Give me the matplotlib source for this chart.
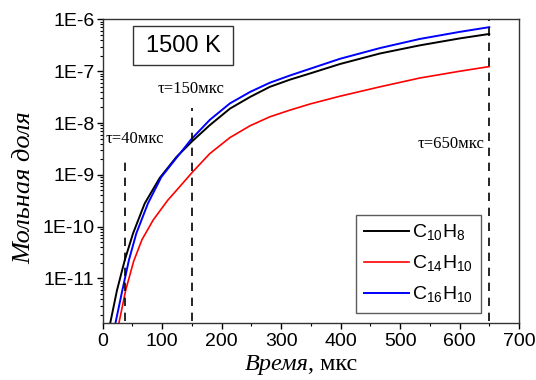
import math
import matplotlib
matplotlib.use('Agg')
import matplotlib.pyplot as plt
from matplotlib.patches import Rectangle
from matplotlib.ticker import LogLocator, FixedLocator, MultipleLocator, FuncFormatter

# time, mks / mole fraction
t_c10h8 = [12.8, 24, 37, 51, 70.6, 95.8, 123.8, 150, 180, 214, 248, 281, 315,
           349, 399, 466, 533, 600, 650]
y_c10h8 = [1.4e-12, 5.9e-12, 2.24e-11, 7.4e-11, 2.8e-10, 8.7e-10, 2.2e-9, 4.4e-9,
           9.1e-9, 1.9e-8, 3.2e-8, 5.0e-8, 6.9e-8, 9.1e-8, 1.38e-7, 2.2e-7,
           3.16e-7, 4.3e-7, 5.25e-7]

t_c14h10 = [27.4, 38.6, 52, 66, 85, 109, 130, 150, 180, 214, 248, 281, 315,
            349, 399, 466, 533, 600, 650]
y_c14h10 = [1.4e-12, 5.9e-12, 2.14e-11, 5.6e-11, 1.35e-10, 3.2e-10, 6.0e-10,
            1.1e-9, 2.57e-9, 5.25e-9, 8.9e-9, 1.32e-8, 1.78e-8, 2.34e-8, 3.3e-8,
            5.0e-8, 7.4e-8, 1.0e-7, 1.23e-7]

t_c16h10 = [21.6, 33, 44, 56.5, 76, 98.6, 125, 148.5, 180, 214, 248, 281, 315,
            349, 399, 466, 533, 600, 650]
y_c16h10 = [1.4e-12, 5.9e-12, 2.24e-11, 7.4e-11, 2.8e-10, 9.1e-10, 2.2e-9, 4.8e-9,
            1.15e-8, 2.4e-8, 4.0e-8, 6.0e-8, 8.3e-8, 1.12e-7, 1.74e-7, 2.8e-7,
            4.2e-7, 5.75e-7, 7.1e-7]

tau_times = [37, 150, 650]
tau_tops = [2.2e-9, 1.95e-8, 1e-6]
tau_labels = ['τ=40мкс', 'τ=150мкс', 'τ=650мкс']
tau_label_pos = [(5.5, 4.1e-9), (93, 3.8e-8), (530, 3.3e-9)]

xticks = [0, 100, 200, 300, 400, 500, 600, 700]
yticks = [1e-11, 1e-10, 1e-9, 1e-8, 1e-7, 1e-6]


def main():
    plt.rcParams['font.family'] = ['Liberation Sans', 'DejaVu Sans']
    plt.rcParams['mathtext.fontset'] = 'custom'
    plt.rcParams['mathtext.rm'] = 'Liberation Sans'

    fig = plt.figure(figsize=(5.36, 3.8), dpi=100)
    ax = fig.add_axes([0.1916, 0.1508, 0.7767, 0.798])

    ax.plot(t_c10h8, y_c10h8, color='black', lw=1.4, label=r'C$_{10}$H$_8$')
    ax.plot(t_c14h10, y_c14h10, color='red', lw=1.2, label=r'C$_{14}$H$_{10}$')
    ax.plot(t_c16h10, y_c16h10, color='blue', lw=1.4, label=r'C$_{16}$H$_{10}$')

    for t, top in zip(tau_times, tau_tops):
        ax.plot([t, t], [1e-13, top], color='black', lw=1.2, ls=(0, (5, 4)))
    for lab, (x, y) in zip(tau_labels, tau_label_pos):
        ax.text(x, y, lab, fontsize=12, family='Liberation Serif',
                ha='left', va='baseline')

    ax.set_yscale('log')
    ax.set_xlim(0, 700)
    ax.set_ylim(1.4e-12, 1e-6)
    ax.xaxis.set_major_locator(FixedLocator(xticks))
    ax.xaxis.set_minor_locator(MultipleLocator(50))
    ax.yaxis.set_major_locator(FixedLocator(yticks))
    ax.yaxis.set_minor_locator(LogLocator(base=10, subs=range(2, 10)))
    ax.yaxis.set_major_formatter(FuncFormatter(
        lambda v, p: '1E%d' % round(math.log10(v))))
    ax.tick_params(labelsize=14, direction='out', length=4, width=1)
    ax.tick_params(axis='y', pad=2)
    ax.tick_params(which='minor', length=2.5, width=0.8)
    for s in ax.spines.values():
        s.set_linewidth(1.0)
        s.set_color('#333333')

    fig.text(0.575, 0.012, 'Время', fontsize=17.5, family='Liberation Serif',
             style='italic', ha='right', va='bottom')
    fig.text(0.575, 0.012, ', мкс', fontsize=17.5, family='Liberation Serif',
             ha='left', va='bottom')
    fig.text(0.045, 0.505, 'Мольная доля', fontsize=19, family='Liberation Serif',
             style='italic', rotation=90, ha='center', va='center')

    ax.add_patch(Rectangle((0.0728, 0.849), 0.240, 0.1285, transform=ax.transAxes,
                           fc='white', ec='#333333', lw=1, zorder=3))
    ax.text(0.193, 0.912, '1500 K', transform=ax.transAxes, fontsize=17,
            va='center', ha='center', zorder=4)

    leg = ax.legend(loc='lower right', bbox_to_anchor=(0.909, 0.032),
                    fontsize=14, frameon=True, fancybox=False,
                    handlelength=2.3, handletextpad=0.2, borderpad=0.4,
                    labelspacing=0.55, borderaxespad=0)
    leg.get_frame().set_edgecolor('#333333')
    leg.get_frame().set_linewidth(1.0)

    fig.savefig('out.png', dpi=100)


if __name__ == '__main__':
    main()
